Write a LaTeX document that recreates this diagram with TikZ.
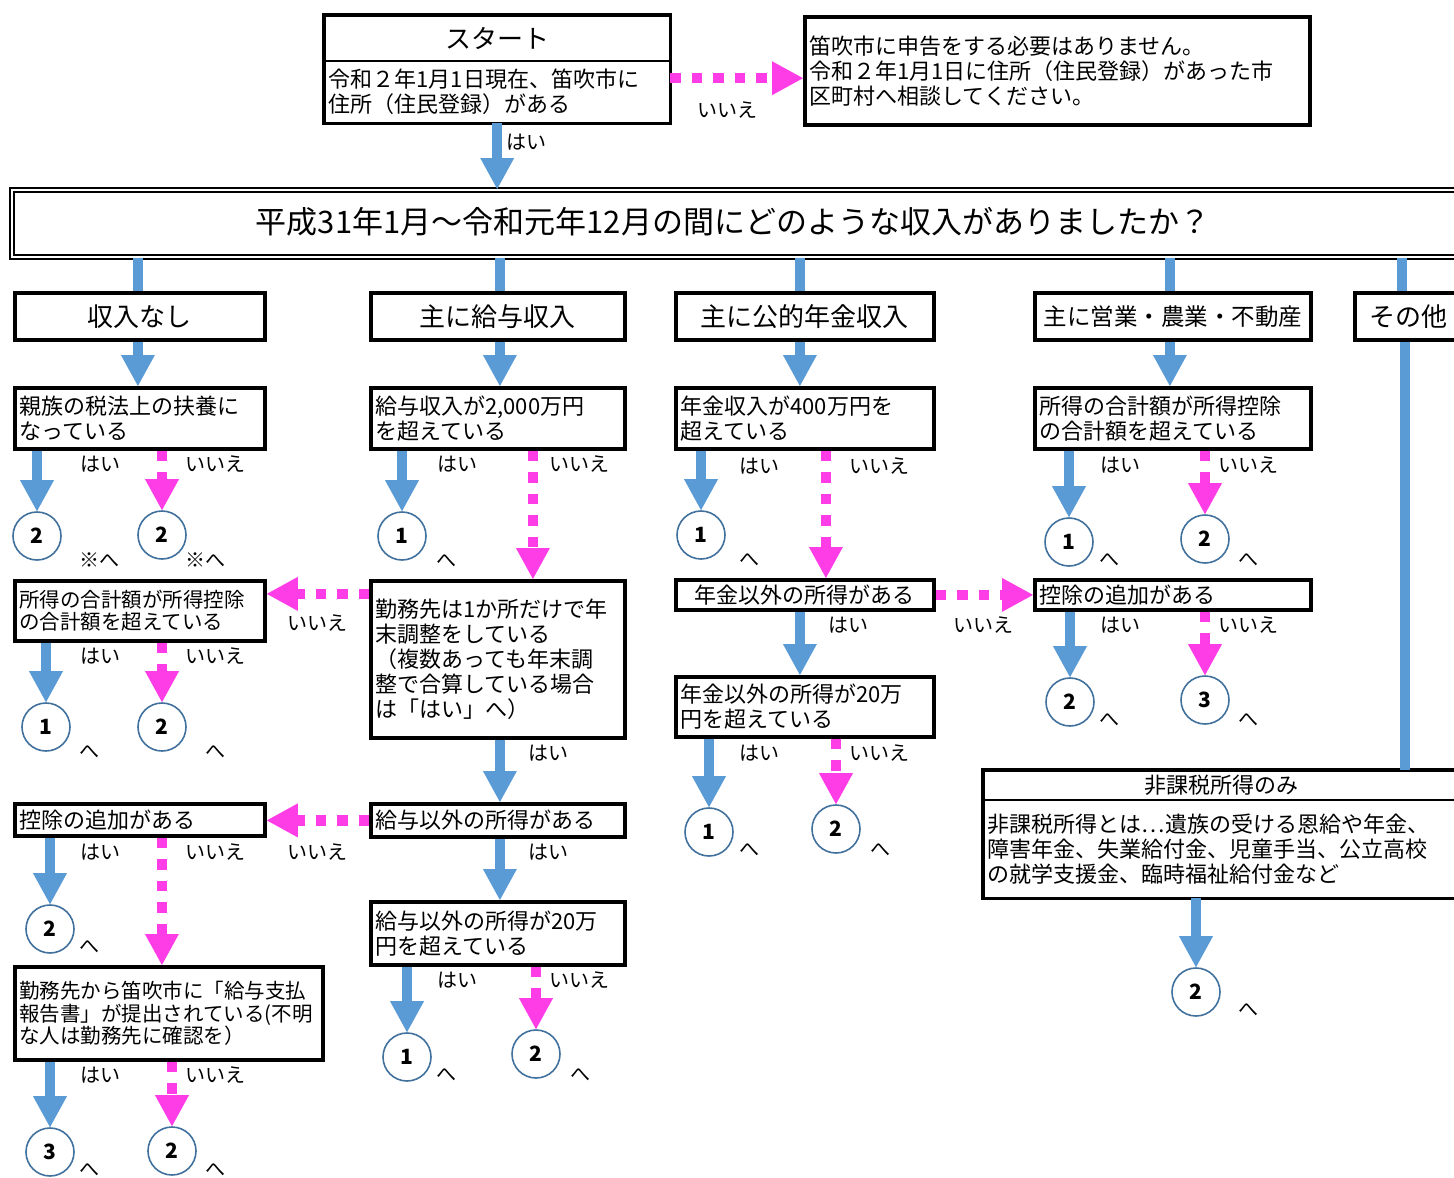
\documentclass[tikz,border=0pt]{standalone}
\usepackage{fontspec}
\setmainfont{Noto Sans CJK JP}
\usetikzlibrary{arrows.meta,positioning}

\definecolor{flowblue}{RGB}{91,155,213}
\definecolor{flowpink}{RGB}{255,61,230}
\definecolor{ringblue}{RGB}{65,113,156}

\newcommand{\qfont}{\fontsize{22pt}{25pt}\selectfont}
\newcommand{\qsmallfont}{\fontsize{20.5pt}{22.5pt}\selectfont}
\newcommand{\catfont}{\fontsize{26pt}{30pt}\selectfont}
\newcommand{\lblfont}{\fontsize{20pt}{24pt}\selectfont}
\newcommand{\headfont}{\fontsize{31pt}{36pt}\selectfont}
\newcommand{\numfont}{\fontsize{21pt}{24pt}\selectfont\bfseries}

\begin{document}
\begin{tikzpicture}[x=1pt, y=-1pt]
	\tikzstyle{qbox}=[draw=black, line width=3.8pt, rectangle, anchor=north west, inner xsep=4.5pt, inner ysep=0pt, align=left, font=\qfont]
	\tikzstyle{catbox}=[draw=black, line width=3.8pt, rectangle, anchor=north west, inner sep=0pt, align=center, font=\catfont, minimum height=47pt]
	\tikzstyle{txtbox}=[rectangle, anchor=north west, inner xsep=4.5pt, inner ysep=0pt, font=\qfont]
	\tikzstyle{ring}=[circle, draw=ringblue, line width=1.6pt, minimum size=48pt, inner sep=0pt, font=\numfont]
	\tikzstyle{lbl}=[inner sep=0pt, font=\lblfont]
	\tikzstyle{yesarrow}=[draw=flowblue, line width=10pt, -{Triangle[width=34pt,length=31pt,line width=0pt]}]
	\tikzstyle{noarrow}=[draw=flowpink, line width=10.5pt, dash pattern=on 10.5pt off 11pt, -{Triangle[width=34pt,length=31pt,line width=0pt]}]
	\tikzstyle{link}=[draw=flowblue, line width=10pt]

	\path[use as bounding box] (0,0) rectangle (1454,1178);
	\clip (0,0) rectangle (1454,1178);

	% start and the answer for "no"
	\node[txtbox, align=center, minimum width=346pt, minimum height=46pt, font=\catfont] (sthead) at (324,15) {スタート};
	\node[txtbox, align=left, minimum width=346pt, minimum height=62pt, text width=337pt] (stbody) at (324,61) {令和２年1月1日現在、笛吹市に\\住所（住民登録）がある};
	\draw[line width=3.8pt] (sthead.north west) rectangle (stbody.south east);
	\draw[line width=2pt] (sthead.south west) -- (sthead.south east);
	\node[qbox, minimum width=505pt, minimum height=108pt, text width=496pt] (outside) at (803,15) {笛吹市に申告をする必要はありません。\\令和２年1月1日に住所（住民登録）があった市\\区町村へ相談してください。};

	% question on income
	\node[draw, line width=1.8pt, double, double distance=2pt, anchor=north west, minimum width=1460pt, minimum height=67pt, inner sep=0pt] (q0) at (11,189) {};
	\node[font=\headfont, inner sep=0pt] (q0text) at (733,222) {平成31年1月～令和元年12月の間にどのような収入がありましたか？};

	% kinds of income
	\node[catbox, minimum width=250pt] (k1) at (13,291) {収入なし};
	\node[catbox, minimum width=254pt] (k2) at (369,291) {主に給与収入};
	\node[catbox, minimum width=258pt] (k3) at (674,291) {主に公的年金収入};
	\node[catbox, minimum width=276pt, font=\fontsize{23.5pt}{28pt}\selectfont] (k4) at (1033,291) {主に営業・農業・不動産};
	\node[catbox, minimum width=107pt] (k5) at (1353,291) {その他};

	% no income
	\node[qbox, minimum width=250pt, minimum height=61pt, text width=241pt] (a1) at (13,386) {親族の税法上の扶養に\\なっている};
	\node[qbox, font=\qsmallfont, minimum width=250pt, minimum height=60pt, text width=241pt] (a2) at (13,579) {所得の合計額が所得控除\\の合計額を超えている};
	\node[qbox, minimum width=250pt, minimum height=32pt, text width=241pt] (a3) at (13,802) {控除の追加がある};
	\node[qbox, font=\qsmallfont, minimum width=308pt, minimum height=93pt, text width=299pt] (a4) at (13,965) {勤務先から笛吹市に「給与支払\\報告書」が提出されている(不明\\な人は勤務先に確認を）};

	% salary
	\node[qbox, minimum width=254pt, minimum height=61pt, text width=245pt] (b1) at (369,386) {給与収入が2,000万円\\を超えている};
	\node[qbox, minimum width=254pt, minimum height=157pt, text width=245pt] (b2) at (369,579) {勤務先は1か所だけで年\\末調整をしている\\（複数あっても年末調\\整で合算している場合\\は「はい」へ）};
	\node[qbox, minimum width=254pt, minimum height=33pt, text width=245pt] (b3) at (369,802) {給与以外の所得がある};
	\node[qbox, minimum width=254pt, minimum height=63pt, text width=245pt] (b4) at (369,900) {給与以外の所得が20万\\円を超えている};

	% pension
	\node[qbox, minimum width=258pt, minimum height=61pt, text width=249pt] (p1) at (674,386) {年金収入が400万円を\\超えている};
	\node[qbox, align=center, minimum width=258pt, minimum height=30pt, text width=249pt] (p2) at (674,578) {年金以外の所得がある};
	\node[qbox, minimum width=258pt, minimum height=60pt, text width=249pt] (p3) at (674,675) {年金以外の所得が20万\\円を超えている};

	% business
	\node[qbox, minimum width=276pt, minimum height=61pt, text width=267pt] (e1) at (1033,386) {所得の合計額が所得控除\\の合計額を超えている};
	\node[qbox, minimum width=276pt, minimum height=30pt, text width=267pt] (e2) at (1033,578) {控除の追加がある};

	% other
	\node[txtbox, align=center, minimum width=477pt, minimum height=30pt] (hhead) at (983,770) {非課税所得のみ};
	\node[txtbox, align=left, minimum width=477pt, minimum height=98pt, text width=468pt] (hbody) at (983,800) {非課税所得とは…遺族の受ける恩給や年金、\\障害年金、失業給付金、児童手当、公立高校\\の就学支援金、臨時福祉給付金など};
	\draw[line width=3.8pt] (hhead.north west) rectangle (hbody.south east);
	\draw[line width=2pt] (hhead.south west) -- (hhead.south east);

	% results
	\node[ring] (ca1) at (37,536) {2};
	\node[ring] (ca2) at (162,535) {2};
	\node[ring] (ca3) at (46,727) {1};
	\node[ring] (ca4) at (162,727) {2};
	\node[ring] (ca5) at (50,929) {2};
	\node[ring] (ca6) at (50,1152) {3};
	\node[ring] (ca7) at (172,1151) {2};
	\node[ring] (cb1) at (402,536) {1};
	\node[ring] (cb2) at (407,1057) {1};
	\node[ring] (cb3) at (536,1054) {2};
	\node[ring] (cp1) at (701,535) {1};
	\node[ring] (cp2) at (709,832) {1};
	\node[ring] (cp3) at (836,829) {2};
	\node[ring] (ce1) at (1069,542) {1};
	\node[ring] (ce2) at (1205,539) {2};
	\node[ring] (ce3) at (1070,702) {2};
	\node[ring] (ce4) at (1205,700) {3};
	\node[ring] (ch1) at (1196,992) {2};

	% connectors
	\draw[yesarrow] (stbody.south) -- (stbody.south |- q0.north);
	\coordinate (nostart) at ([yshift=14pt]stbody.east);
	\draw[noarrow] (nostart) -- (nostart -| outside.west);
	\foreach \k/\dx in {k1/-2,k2/2,k3/-5,k4/-3,k5/-6}{
		\coordinate (top\k) at ([xshift=\dx pt]\k.north);
		\draw[link] (top\k |- q0.south) -- (top\k);
	}
	\coordinate (down1) at ([xshift=-2pt]k1.south);
	\coordinate (down2) at ([xshift=2pt]k2.south);
	\coordinate (down3) at ([xshift=-5pt]k3.south);
	\coordinate (down4) at ([xshift=-3pt]k4.south);
	\coordinate (down5) at ([xshift=-3pt]k5.south);

	\draw[yesarrow] (down1) -- (down1 |- a1.north);
	\draw[yesarrow] (ca1.north |- a1.south) -- (ca1.north);
	\draw[noarrow] (ca2.north |- a1.south) -- (ca2.north);
	\draw[yesarrow] (ca3.north |- a2.south) -- (ca3.north);
	\draw[noarrow] (ca4.north |- a2.south) -- (ca4.north);
	\draw[yesarrow] (ca5.north |- a3.south) -- (ca5.north);
	\coordinate (noa) at ([xshift=22pt]a3.south);
	\draw[noarrow] (noa) -- (noa |- a4.north);
	\draw[yesarrow] (ca6.north |- a4.south) -- (ca6.north);
	\draw[noarrow] (ca7.north |- a4.south) -- (ca7.north);

	\draw[yesarrow] (down2) -- (down2 |- b1.north);
	\draw[yesarrow] (cb1.north |- b1.south) -- (cb1.north);
	\coordinate (nob) at ([xshift=35pt]b1.south);
	\draw[noarrow] (nob) -- (nob |- b2.north);
	\coordinate (noc) at ([yshift=17pt]a2.east);
	\draw[noarrow] (noc -| b2.west) -- (noc);
	\draw[yesarrow] (down2 |- b2.south) -- (down2 |- b3.north);
	\draw[noarrow] (b3.west) -- (b3.west -| a3.east);
	\draw[yesarrow] (down2 |- b3.south) -- (down2 |- b4.north);
	\draw[yesarrow] (cb2.north |- b4.south) -- (cb2.north);
	\draw[noarrow] (cb3.north |- b4.south) -- (cb3.north);

	\draw[yesarrow] (down3) -- (down3 |- p1.north);
	\draw[yesarrow] (cp1.north |- p1.south) -- (cp1.north);
	\coordinate (nop) at ([xshift=21pt]p1.south);
	\draw[noarrow] (nop) -- (nop |- p2.north);
	\draw[noarrow] (p2.east) -- (p2.east -| e2.west);
	\draw[yesarrow] (down3 |- p2.south) -- (down3 |- p3.north);
	\draw[yesarrow] (cp2.north |- p3.south) -- (cp2.north);
	\draw[noarrow] (cp3.north |- p3.south) -- (cp3.north);

	\draw[yesarrow] (down4) -- (down4 |- e1.north);
	\draw[yesarrow] (ce1.north |- e1.south) -- (ce1.north);
	\draw[noarrow] (ce2.north |- e1.south) -- (ce2.north);
	\draw[yesarrow] (ce3.north |- e2.south) -- (ce3.north);
	\draw[noarrow] (ce4.north |- e2.south) -- (ce4.north);

	\draw[link] (down5) -- (down5 |- hhead.north);
	\draw[yesarrow] (ch1.north |- hbody.south) -- (ch1.north);

	% answers and hints
	\foreach \x/\y/\t [count=\i] in {
		526/142/はい, 727/110/いいえ,
		100/464/はい, 215/464/いいえ, 99/560/※へ, 205/560/※へ,
		317/623/いいえ, 100/656/はい, 215/656/いいえ, 89/752/へ, 215/752/へ,
		317/852/いいえ, 100/852/はい, 215/852/いいえ, 89/947/へ,
		100/1075/はい, 215/1075/いいえ, 89/1170/へ, 215/1170/へ,
		457/464/はい, 579/464/いいえ, 446/561/へ, 548/753/はい, 548/852/はい,
		457/980/はい, 579/980/いいえ, 446/1075/へ, 580/1075/へ,
		759/466/はい, 879/466/いいえ, 749/560/へ, 848/625/はい, 983/625/いいえ,
		759/753/はい, 879/753/いいえ, 749/850/へ, 880/850/へ,
		1120/465/はい, 1248/465/いいえ, 1109/560/へ, 1248/560/へ,
		1120/625/はい, 1248/625/いいえ, 1109/720/へ, 1248/720/へ,
		1248/1010/へ}
		\node[lbl] (lbl\i) at (\x,\y) {\t};
\end{tikzpicture}
\end{document}
